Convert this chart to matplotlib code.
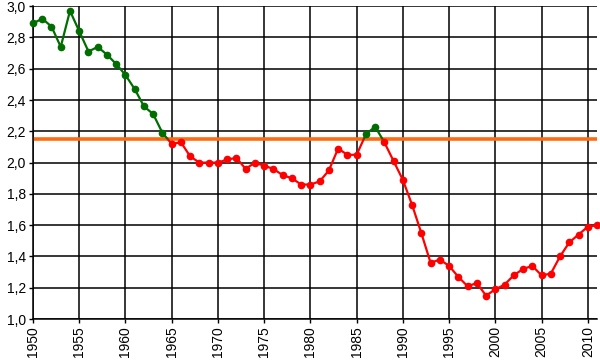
import numpy as np
import matplotlib.pyplot as plt
from matplotlib.patches import Rectangle
from matplotlib.ticker import MultipleLocator, FuncFormatter

plt.rcParams['font.family'] = ['Liberation Sans', 'DejaVu Sans']
plt.rcParams['font.size'] = 10

# данные: суммарный коэффициент рождаемости по годам
years = np.arange(1950, 2012)
values = [2.89, 2.92, 2.87, 2.74, 2.97, 2.84, 2.71, 2.74, 2.69, 2.63,
          2.56, 2.47, 2.36, 2.31, 2.19, 2.12, 2.13, 2.04, 2.00, 2.00,
          2.00, 2.02, 2.03, 1.96, 2.00, 1.98, 1.96, 1.92, 1.90, 1.86,
          1.86, 1.88, 1.95, 2.09, 2.05, 2.05, 2.18, 2.23, 2.13, 2.01,
          1.89, 1.73, 1.55, 1.36, 1.38, 1.34, 1.27, 1.21, 1.23, 1.15,
          1.19, 1.22, 1.28, 1.32, 1.34, 1.28, 1.29, 1.40, 1.49, 1.54,
          1.59, 1.60]
threshold = 2.15

green = '#006e00'
red = '#ff0000'
orange = '#ff6a10'

fig = plt.figure(figsize=(6.0, 3.63), dpi=100)
ax = fig.add_axes([0.055, 0.121, 0.940, 0.862])

vals = np.array(values)

# линия: красная ниже порога, зелёная выше
l_red, = ax.plot(years, vals, '-', color=red, lw=1.6, zorder=3)
l_green, = ax.plot(years, vals, '-', color=green, lw=1.6, zorder=3)
low = Rectangle((1900, 0), 200, threshold, transform=ax.transData)
high = Rectangle((1900, threshold), 200, 10, transform=ax.transData)
l_red.set_clip_path(low)
l_green.set_clip_path(high)

above = vals >= threshold
ax.plot(years[above], vals[above], 'o', color=green, ms=4.5, zorder=4, clip_on=False)
ax.plot(years[~above], vals[~above], 'o', color=red, ms=4.5, zorder=4, clip_on=False)

ax.axhline(threshold, color=orange, lw=2.6, zorder=2)

ax.set_xlim(1950, 2011)
ax.set_ylim(1.0, 3.0)
ax.xaxis.set_major_locator(MultipleLocator(5))
ax.yaxis.set_major_locator(MultipleLocator(0.2))
ax.yaxis.set_major_formatter(FuncFormatter(lambda v, p: f'{v:.1f}'.replace('.', ',')))

ax.grid(True, color='black', lw=1.1)
ax.set_axisbelow(True)
for side in ['top', 'right']:
    ax.spines[side].set_visible(False)
for side in ['left', 'bottom']:
    ax.spines[side].set_linewidth(1.1)

ax.tick_params(axis='x', rotation=90, length=3, width=1, pad=2, labelsize=10)
ax.tick_params(axis='y', length=3, width=1, pad=2, labelsize=10)

plt.savefig('out.png', dpi=100)
